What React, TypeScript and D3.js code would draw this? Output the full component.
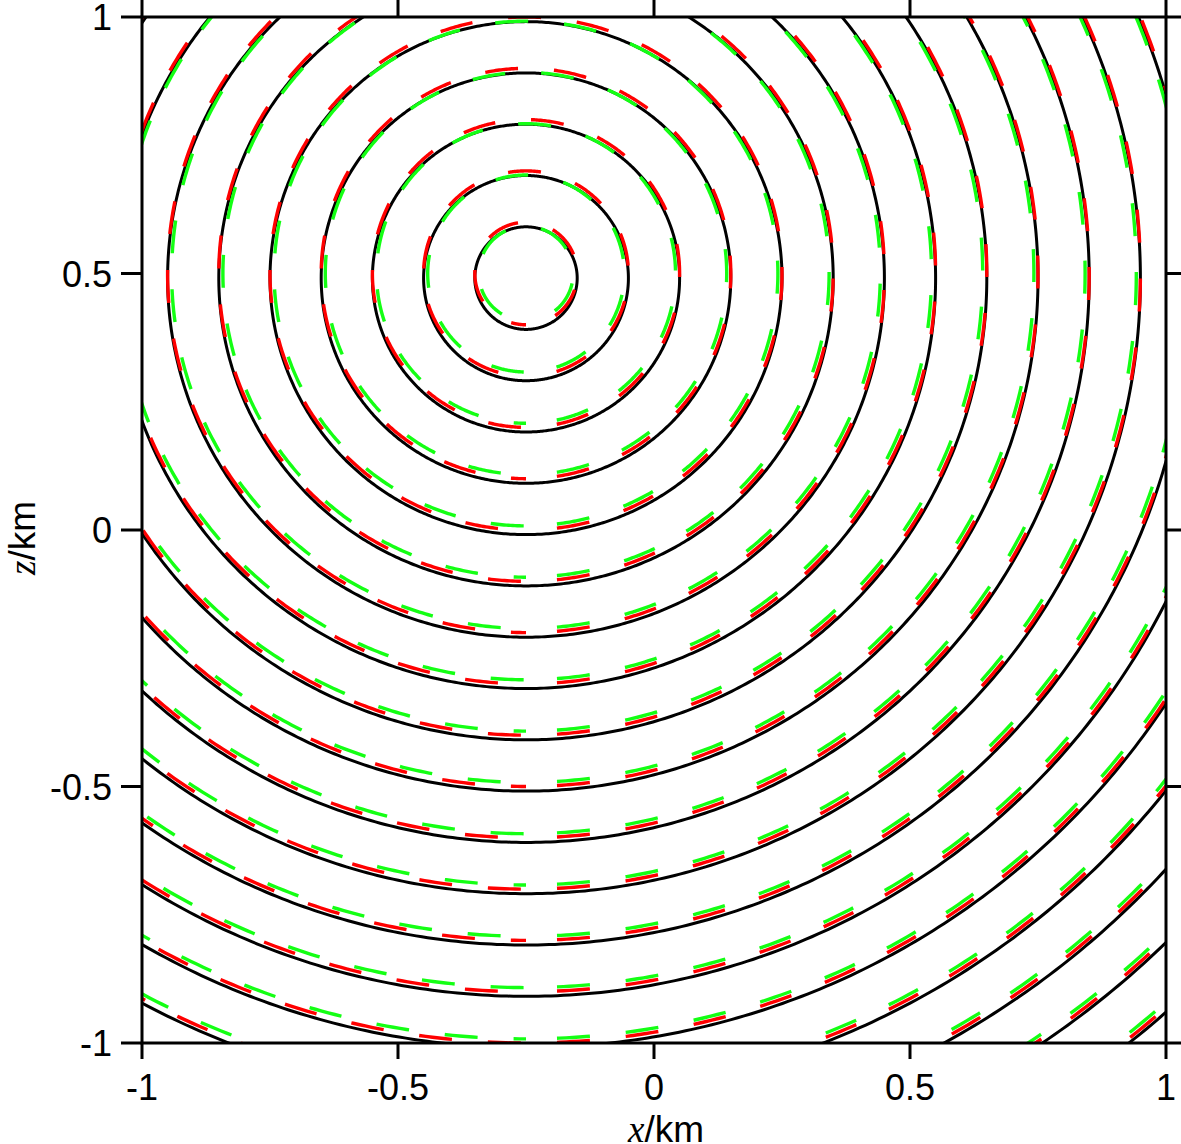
import React from "react";
import * as d3 from "d3";

// ---- data ----
const xTicks = [-1, -0.5, 0, 0.5, 1];
const zTicks = [-1, -0.5, 0, 0.5, 1];
const xTickLabels = ["-1", "-0.5", "0", "0.5", "1"];
const zTickLabels = ["-1", "-0.5", "0", "0.5", "1"];

// wavefront centers (km)
const blackCenter = [-0.25, 0.491];
const redCenter = [-0.25, 0.5];
const greenCenter = [-0.25, 0.5];

// wavefront radii (km)
const blackRadii = [0.1, 0.2, 0.3, 0.4, 0.5, 0.6, 0.7, 0.8, 0.9, 1.0, 1.1, 1.2, 1.3, 1.4, 1.5, 1.6, 1.7, 1.8, 1.9, 2.0];
const redRadii = [0.1, 0.2, 0.3, 0.4, 0.5, 0.6, 0.7, 0.8, 0.9, 1.0, 1.1, 1.2, 1.3, 1.4, 1.5, 1.6, 1.7, 1.8, 1.9, 2.0];
const greenRadii = [0.092, 0.192, 0.292, 0.392, 0.492, 0.592, 0.692, 0.792, 0.892, 0.992, 1.092, 1.192, 1.292, 1.392, 1.492, 1.592, 1.692, 1.792, 1.892, 1.992];

const W = 1181;
const H = 1144;
const left = 142;
const right = 1166;
const top = 17;
const bottom = 1043;

export default function App() {
  const x = d3.scaleLinear().domain([-1, 1]).range([left, right]);
  const y = d3.scaleLinear().domain([-1, 1]).range([bottom, top]);

  const line = d3
    .line<[number, number]>()
    .x((d) => x(d[0]))
    .y((d) => y(d[1]));

  const circlePath = (c: number[], r: number) => {
    const n = 720;
    const pts: [number, number][] = [];
    for (let i = 0; i <= n; i++) {
      const a = -Math.PI / 2 + (i / n) * 2 * Math.PI;
      pts.push([c[0] + r * Math.cos(a), c[1] + r * Math.sin(a)]);
    }
    return line(pts) || "";
  };

  const font = "'Liberation Sans', Arial, sans-serif";

  return (
    <svg
      width={W}
      height={H}
      style={{ position: "absolute", left: 0, top: 0, background: "#fff" }}
    >
      <defs>
        <clipPath id="plot">
          <rect x={left} y={top} width={right - left} height={bottom - top} />
        </clipPath>
      </defs>
      <rect x={0} y={0} width={W} height={H} fill="#fff" />
      <g clipPath="url(#plot)" fill="none">
        {blackRadii.map((r, i) => (
          <path key={"k" + i} d={circlePath(blackCenter, r)} stroke="#000" strokeWidth={3} />
        ))}
        {redRadii.map((r, i) => (
          <path
            key={"r" + i}
            d={circlePath(redCenter, r)}
            stroke="#ff0000"
            strokeWidth={3.4}
            strokeDasharray="33 36"
            strokeDashoffset={38}
          />
        ))}
        {greenRadii.map((r, i) => (
          <path
            key={"g" + i}
            d={circlePath(greenCenter, r)}
            stroke="#14ff14"
            strokeWidth={3.4}
            strokeDasharray="33 36"
            strokeDashoffset={38}
          />
        ))}
      </g>
      {/* frame */}
      <rect x={left} y={top} width={right - left} height={bottom - top} fill="none" stroke="#000" strokeWidth={3} />
      {/* ticks */}
      <g stroke="#000" strokeWidth={3}>
        {xTicks.map((t, i) => (
          <g key={"xt" + i}>
            <line x1={x(t)} x2={x(t)} y1={bottom} y2={bottom + 16} />
            <line x1={x(t)} x2={x(t)} y1={top} y2={top - 18} />
          </g>
        ))}
        {zTicks.map((t, i) => (
          <g key={"zt" + i}>
            <line x1={left} x2={left - 21} y1={y(t)} y2={y(t)} />
            <line x1={right} x2={right + 18} y1={y(t)} y2={y(t)} />
          </g>
        ))}
      </g>
      {/* tick labels */}
      <g fontFamily={font} fontSize={36} fill="#000">
        {xTickLabels.map((s, i) => (
          <text key={"xl" + i} x={x(xTicks[i])} y={1100} textAnchor="middle">
            {s}
          </text>
        ))}
        {zTickLabels.map((s, i) => (
          <text key={"zl" + i} x={112} y={y(zTicks[i]) + 13} textAnchor="end">
            {s}
          </text>
        ))}
      </g>
      {/* axis titles */}
      <text x={666} y={1142} textAnchor="middle" fontSize={37} fontFamily={font}>
        <tspan fontFamily="'Liberation Serif', 'Times New Roman', serif" fontStyle="italic">x</tspan>
        <tspan>/km</tspan>
      </text>
      <text
        transform={`translate(35, 538) rotate(-90)`}
        textAnchor="middle"
        fontSize={37}
        fontFamily={font}
      >
        <tspan fontFamily="'Liberation Serif', 'Times New Roman', serif" fontStyle="italic">z</tspan>
        <tspan>/km</tspan>
      </text>
    </svg>
  );
}
